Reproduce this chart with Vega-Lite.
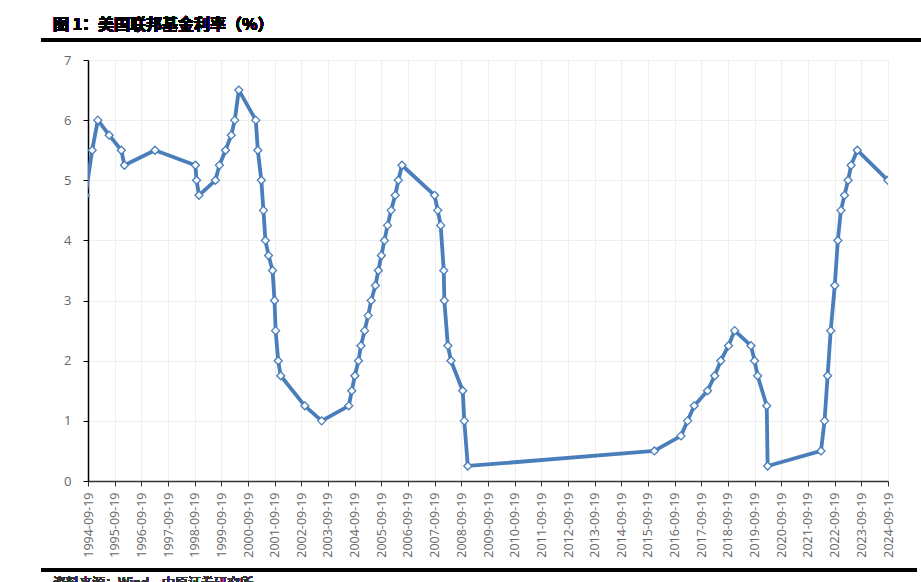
{
  "$schema": "https://vega.github.io/schema/vega-lite/v6.json",
  "width": 800,
  "height": 421,
  "autosize": {"type": "none"},
  "padding": {"left": 88, "top": 60, "right": 33, "bottom": 101},
  "background": "white",
  "config": {
    "view": {"stroke": null},
    "font": "Open Sans"
  },
  "data": {
    "values": [
      {"date": "1994-08-16", "rate": 4.75},
      {"date": "1994-11-15", "rate": 5.5},
      {"date": "1995-02-01", "rate": 6.0},
      {"date": "1995-07-06", "rate": 5.75},
      {"date": "1995-12-19", "rate": 5.5},
      {"date": "1996-01-31", "rate": 5.25},
      {"date": "1997-03-25", "rate": 5.5},
      {"date": "1998-09-29", "rate": 5.25},
      {"date": "1998-10-15", "rate": 5.0},
      {"date": "1998-11-17", "rate": 4.75},
      {"date": "1999-06-30", "rate": 5.0},
      {"date": "1999-08-24", "rate": 5.25},
      {"date": "1999-11-16", "rate": 5.5},
      {"date": "2000-02-02", "rate": 5.75},
      {"date": "2000-03-21", "rate": 6.0},
      {"date": "2000-05-16", "rate": 6.5},
      {"date": "2001-01-03", "rate": 6.0},
      {"date": "2001-01-31", "rate": 5.5},
      {"date": "2001-03-20", "rate": 5.0},
      {"date": "2001-04-18", "rate": 4.5},
      {"date": "2001-05-15", "rate": 4.0},
      {"date": "2001-06-27", "rate": 3.75},
      {"date": "2001-08-21", "rate": 3.5},
      {"date": "2001-09-17", "rate": 3.0},
      {"date": "2001-10-02", "rate": 2.5},
      {"date": "2001-11-06", "rate": 2.0},
      {"date": "2001-12-11", "rate": 1.75},
      {"date": "2002-11-06", "rate": 1.25},
      {"date": "2003-06-25", "rate": 1.0},
      {"date": "2004-06-30", "rate": 1.25},
      {"date": "2004-08-10", "rate": 1.5},
      {"date": "2004-09-21", "rate": 1.75},
      {"date": "2004-11-10", "rate": 2.0},
      {"date": "2004-12-14", "rate": 2.25},
      {"date": "2005-02-02", "rate": 2.5},
      {"date": "2005-03-22", "rate": 2.75},
      {"date": "2005-05-03", "rate": 3.0},
      {"date": "2005-06-30", "rate": 3.25},
      {"date": "2005-08-09", "rate": 3.5},
      {"date": "2005-09-20", "rate": 3.75},
      {"date": "2005-11-01", "rate": 4.0},
      {"date": "2005-12-13", "rate": 4.25},
      {"date": "2006-01-31", "rate": 4.5},
      {"date": "2006-03-28", "rate": 4.75},
      {"date": "2006-05-10", "rate": 5.0},
      {"date": "2006-06-29", "rate": 5.25},
      {"date": "2007-09-18", "rate": 4.75},
      {"date": "2007-10-31", "rate": 4.5},
      {"date": "2007-12-11", "rate": 4.25},
      {"date": "2008-01-22", "rate": 3.5},
      {"date": "2008-01-30", "rate": 3.0},
      {"date": "2008-03-18", "rate": 2.25},
      {"date": "2008-04-30", "rate": 2.0},
      {"date": "2008-10-08", "rate": 1.5},
      {"date": "2008-10-29", "rate": 1.0},
      {"date": "2008-12-16", "rate": 0.25},
      {"date": "2015-12-16", "rate": 0.5},
      {"date": "2016-12-14", "rate": 0.75},
      {"date": "2017-03-15", "rate": 1.0},
      {"date": "2017-06-14", "rate": 1.25},
      {"date": "2017-12-13", "rate": 1.5},
      {"date": "2018-03-21", "rate": 1.75},
      {"date": "2018-06-13", "rate": 2.0},
      {"date": "2018-09-26", "rate": 2.25},
      {"date": "2018-12-19", "rate": 2.5},
      {"date": "2019-07-31", "rate": 2.25},
      {"date": "2019-09-18", "rate": 2.0},
      {"date": "2019-10-30", "rate": 1.75},
      {"date": "2020-03-03", "rate": 1.25},
      {"date": "2020-03-15", "rate": 0.25},
      {"date": "2022-03-16", "rate": 0.5},
      {"date": "2022-05-04", "rate": 1.0},
      {"date": "2022-06-15", "rate": 1.75},
      {"date": "2022-07-27", "rate": 2.5},
      {"date": "2022-09-21", "rate": 3.25},
      {"date": "2022-11-02", "rate": 4.0},
      {"date": "2022-12-14", "rate": 4.5},
      {"date": "2023-02-01", "rate": 4.75},
      {"date": "2023-03-22", "rate": 5.0},
      {"date": "2023-05-03", "rate": 5.25},
      {"date": "2023-07-26", "rate": 5.5},
      {"date": "2024-09-18", "rate": 5.0}
    ]
  },
  "encoding": {
    "x": {
      "field": "date",
      "type": "temporal",
      "scale": {
        "type": "utc",
        "domain": [
          {"year": 1994, "month": 9, "date": 19, "utc": true},
          {"year": 2024, "month": 9, "date": 19, "utc": true}
        ]
      },
      "axis": {
        "title": null,
        "format": "%Y-%m-%d",
        "values": [
          {"year": 1994, "month": 9, "date": 19, "utc": true},
          {"year": 1995, "month": 9, "date": 19, "utc": true},
          {"year": 1996, "month": 9, "date": 19, "utc": true},
          {"year": 1997, "month": 9, "date": 19, "utc": true},
          {"year": 1998, "month": 9, "date": 19, "utc": true},
          {"year": 1999, "month": 9, "date": 19, "utc": true},
          {"year": 2000, "month": 9, "date": 19, "utc": true},
          {"year": 2001, "month": 9, "date": 19, "utc": true},
          {"year": 2002, "month": 9, "date": 19, "utc": true},
          {"year": 2003, "month": 9, "date": 19, "utc": true},
          {"year": 2004, "month": 9, "date": 19, "utc": true},
          {"year": 2005, "month": 9, "date": 19, "utc": true},
          {"year": 2006, "month": 9, "date": 19, "utc": true},
          {"year": 2007, "month": 9, "date": 19, "utc": true},
          {"year": 2008, "month": 9, "date": 19, "utc": true},
          {"year": 2009, "month": 9, "date": 19, "utc": true},
          {"year": 2010, "month": 9, "date": 19, "utc": true},
          {"year": 2011, "month": 9, "date": 19, "utc": true},
          {"year": 2012, "month": 9, "date": 19, "utc": true},
          {"year": 2013, "month": 9, "date": 19, "utc": true},
          {"year": 2014, "month": 9, "date": 19, "utc": true},
          {"year": 2015, "month": 9, "date": 19, "utc": true},
          {"year": 2016, "month": 9, "date": 19, "utc": true},
          {"year": 2017, "month": 9, "date": 19, "utc": true},
          {"year": 2018, "month": 9, "date": 19, "utc": true},
          {"year": 2019, "month": 9, "date": 19, "utc": true},
          {"year": 2020, "month": 9, "date": 19, "utc": true},
          {"year": 2021, "month": 9, "date": 19, "utc": true},
          {"year": 2022, "month": 9, "date": 19, "utc": true},
          {"year": 2023, "month": 9, "date": 19, "utc": true},
          {"year": 2024, "month": 9, "date": 19, "utc": true}
        ],
        "labelAngle": -90,
        "labelAlign": "right",
        "labelBaseline": "middle",
        "labelPadding": 6,
        "labelFontSize": 12.5,
        "labelColor": "#666666",
        "labelFont": "Open Sans",
        "labelOverlap": false,
        "labelFlush": false,
        "tickSize": 5,
        "tickColor": "#333333",
        "tickWidth": 1,
        "domainColor": "#333333",
        "domainWidth": 1.5,
        "grid": true,
        "gridColor": "#eeeeee",
        "gridWidth": 1
      }
    },
    "y": {
      "field": "rate",
      "type": "quantitative",
      "scale": {"domain": [0, 7], "nice": false, "zero": true},
      "axis": {
        "title": null,
        "values": [0, 1, 2, 3, 4, 5, 6, 7],
        "labelFontSize": 13,
        "labelColor": "#666666",
        "labelFont": "Open Sans",
        "labelPadding": 12,
        "tickSize": 5,
        "tickColor": "#000000",
        "domainColor": "#000000",
        "domainWidth": 1.5,
        "grid": true,
        "gridColor": "#eeeeee",
        "gridWidth": 1
      }
    }
  },
  "layer": [
    {
      "mark": {"type": "line", "clip": true, "color": "#4a7ebb", "strokeWidth": 3.8, "strokeJoin": "round"}
    },
    {
      "mark": {"type": "point", "clip": true, "shape": "diamond", "filled": true, "fill": "white", "stroke": "#4a7ebb", "strokeWidth": 1.3, "size": 64, "opacity": 1}
    },
    {
      "mark": {"type": "rule", "color": "black", "strokeWidth": 2.5},
      "encoding": {
        "x": {"datum": {"year": 1992, "month": 12, "date": 24, "utc": true}, "type": "temporal"},
        "x2": {"datum": {"year": 2026, "month": 3, "date": 1, "utc": true}},
        "y": {"datum": 7.333, "type": "quantitative"}
      }
    },
    {
      "mark": {"type": "rule", "color": "black", "strokeWidth": 2.7},
      "encoding": {
        "x": {"datum": {"year": 1992, "month": 12, "date": 24, "utc": true}, "type": "temporal"},
        "x2": {"datum": {"year": 2025, "month": 10, "date": 20, "utc": true}},
        "y": {"datum": -1.48, "type": "quantitative"}
      }
    },
    {
      "mark": {"type": "text", "text": "图 1：美国联邦基金利率（%）", "font": "Noto Sans CJK SC", "fontWeight": "bold", "fontSize": 16, "color": "black", "align": "left", "baseline": "middle"},
      "encoding": {
        "x": {"datum": {"year": 1993, "month": 5, "date": 28, "utc": true}, "type": "temporal"},
        "y": {"datum": 7.574, "type": "quantitative"}
      }
    },
    {
      "mark": {"type": "text", "text": "资料来源：Wind，中原证券研究所", "font": "Noto Sans CJK SC", "fontSize": 13, "color": "#333333", "align": "left", "baseline": "top"},
      "encoding": {
        "x": {"datum": {"year": 1993, "month": 5, "date": 28, "utc": true}, "type": "temporal"},
        "y": {"datum": -1.6, "type": "quantitative"}
      }
    }
  ]
}
